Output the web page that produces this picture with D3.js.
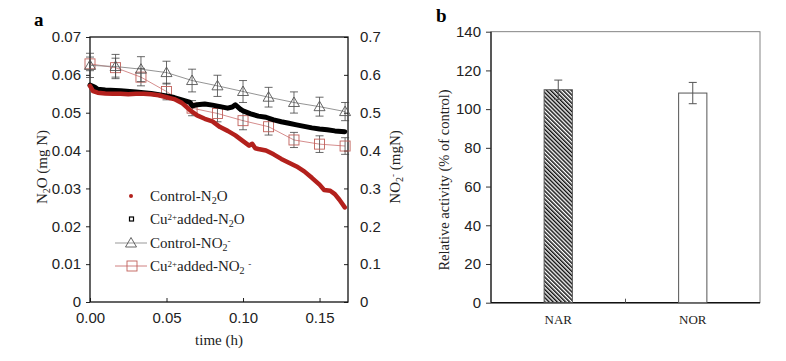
<!DOCTYPE html>
<html>
<head>
<meta charset="utf-8">
<script src="https://cdn.jsdelivr.net/npm/d3@7"></script>
<style>
  body { margin: 0; background: #fff; }
  svg { font-family: "Liberation Serif", "Times New Roman", serif; }
  .tick text { font-size: 15px; fill: #222; }
</style>
</head>
<body>
<svg id="chart" width="786" height="361"></svg>
<script>
// ---- panel a : N2O (left axis, mg N) and NO2- (right axis, mg N) vs time (h)
let ctrlN2O_t = [0, 0.002, 0.005, 0.010, 0.015, 0.020, 0.025, 0.030, 0.035, 0.040, 0.045, 0.050, 0.055,
  0.060, 0.065, 0.070, 0.075, 0.080, 0.085, 0.090, 0.095, 0.100, 0.104, 0.106, 0.108, 0.110, 0.115,
  0.120, 0.125, 0.130, 0.135, 0.140, 0.145, 0.150, 0.153, 0.157, 0.160, 0.163, 0.1665]
let ctrlN2O = [0.0571, 0.0557, 0.0553, 0.0551, 0.0550, 0.0550, 0.0549, 0.0550, 0.0550, 0.0549, 0.0546, 0.0541, 0.0536,
  0.0526, 0.0508, 0.0493, 0.0484, 0.0477, 0.0462, 0.0452, 0.0440, 0.0425, 0.0413, 0.0418, 0.0406, 0.0404, 0.0400,
  0.0390, 0.0378, 0.0368, 0.0358, 0.0345, 0.0328, 0.0310, 0.0296, 0.0294, 0.0285, 0.0270, 0.0250]

let cuN2O_t = [0, 0.003, 0.005, 0.010, 0.020, 0.030, 0.040, 0.050, 0.055, 0.060, 0.065, 0.067, 0.070,
  0.075, 0.080, 0.085, 0.090, 0.093, 0.095, 0.098, 0.100, 0.105, 0.110, 0.115, 0.120, 0.125, 0.130,
  0.135, 0.140, 0.145, 0.150, 0.155, 0.160, 0.1665]
let cuN2O = [0.0573, 0.0568, 0.0562, 0.0560, 0.0558, 0.0555, 0.0551, 0.0544, 0.0540, 0.0534, 0.0528, 0.0518, 0.0521,
  0.0523, 0.0520, 0.0516, 0.0512, 0.0515, 0.0521, 0.0510, 0.0505, 0.0497, 0.0491, 0.0488, 0.0481, 0.0476, 0.0472,
  0.0468, 0.0464, 0.0460, 0.0457, 0.0455, 0.0452, 0.0450]

// nitrite sampled once a minute
let no2_t = [0, 0.0167, 0.0333, 0.05, 0.0667, 0.0833, 0.1, 0.1167, 0.1333, 0.15, 0.1667]
let ctrlNO2 = [0.625, 0.622, 0.615, 0.606, 0.585, 0.571, 0.556, 0.541, 0.527, 0.516, 0.503]
let ctrlNO2_err = [0.032, 0.032, 0.033, 0.030, 0.030, 0.028, 0.029, 0.026, 0.028, 0.025, 0.024]
let cuNO2 = [0.629, 0.619, 0.594, 0.556, 0.512, 0.498, 0.479, 0.463, 0.428, 0.417, 0.412]
let cuNO2_err = [0.018, 0.025, 0.023, 0.022, 0.020, 0.022, 0.024, 0.022, 0.020, 0.022, 0.022]

let xTicks = [0, 0.05, 0.10, 0.15]
let yLeftTicks = [0, 0.01, 0.02, 0.03, 0.04, 0.05, 0.06, 0.07]
let yRightTicks = [0, 0.1, 0.2, 0.3, 0.4, 0.5, 0.6, 0.7]

// ---- panel b : relative enzyme activity
let enzymes = ['NAR', 'NOR']
let activity = [110, 108.3]
let activity_err = [5, 5.5]
let yBTicks = [0, 20, 40, 60, 80, 100, 120, 140]

const svg = d3.select('#chart')

const red = '#b3201c', sqColor = '#c0605a', triColor = '#555'

// hatch for the NAR bar
svg.append('defs').append('pattern')
  .attr('id', 'hatch').attr('patternUnits', 'userSpaceOnUse')
  .attr('width', 2.9).attr('height', 10)
  .attr('patternTransform', 'rotate(-45)')
  .append('rect').attr('width', 1.5).attr('height', 10).attr('fill', '#111')

// ================= panel a =================
let x = d3.scaleLinear().domain([0, 0.1686]).range([90, 348])
let yL = d3.scaleLinear().domain([0, 0.07]).range([302, 37])
let yR = d3.scaleLinear().domain([0, 0.7]).range([302, 37])

svg.append('g').attr('transform', 'translate(0,302)')
  .call(d3.axisBottom(x).tickValues(xTicks).tickFormat(d3.format('.2f')).tickSizeInner(-4).tickSizeOuter(0).tickPadding(10))
svg.append('g').attr('transform', 'translate(90,0)')
  .call(d3.axisLeft(yL).tickValues(yLeftTicks).tickFormat(d => d == 0 ? '0' : d3.format('.2f')(d)).tickSizeInner(4).tickSizeOuter(0).tickPadding(5))
svg.append('g').attr('transform', 'translate(348,0)')
  .call(d3.axisRight(yR).tickValues(yRightTicks).tickFormat(d => d == 0 ? '0' : d3.format('.1f')(d)).tickSizeInner(-4).tickSizeOuter(0).tickPadding(12))
svg.selectAll('.domain').remove()
svg.selectAll('.tick line').attr('stroke', '#222')

// frame
svg.append('rect').attr('x', 90).attr('y', 37).attr('width', 258).attr('height', 265)
  .attr('fill', 'none').attr('stroke', '#111').attr('stroke-width', 1.3)

let lineL = d3.line().x(d => x(d[0])).y(d => yL(d[1]))
let lineR = d3.line().x(d => x(d[0])).y(d => yR(d[1]))

// nitrite series with error bars
function nitrite(vals, errs, color, lineColor, marker) {
  let pts = no2_t.map((t, i) => [t, vals[i], errs[i]])
  svg.append('path').datum(pts).attr('d', lineR)
    .attr('fill', 'none').attr('stroke', lineColor).attr('stroke-width', 0.9)
  let g = svg.append('g')
  pts.forEach(p => {
    let cx = x(p[0])
    g.append('line').attr('x1', cx).attr('x2', cx).attr('y1', yR(p[1] + p[2])).attr('y2', yR(p[1] - p[2]))
      .attr('stroke', '#444').attr('stroke-width', 0.8)
    ;[p[1] + p[2], p[1] - p[2]].forEach(v => {
      g.append('line').attr('x1', cx - 4).attr('x2', cx + 4).attr('y1', yR(v)).attr('y2', yR(v))
        .attr('stroke', '#444').attr('stroke-width', 0.8)
    })
    marker(g, cx, yR(p[1]), color)
  })
}
function triangle(g, cx, cy, color) {
  g.append('path').attr('d', `M${cx},${cy - 5.5}L${cx + 5.5},${cy + 4}L${cx - 5.5},${cy + 4}Z`)
    .attr('fill', 'none').attr('stroke', color).attr('stroke-width', 0.9)
}
function square(g, cx, cy, color) {
  g.append('rect').attr('x', cx - 5).attr('y', cy - 5).attr('width', 10).attr('height', 10)
    .attr('fill', 'none').attr('stroke', color).attr('stroke-width', 0.9)
}

nitrite(cuNO2, cuNO2_err, sqColor, '#d08080', square)
nitrite(ctrlNO2, ctrlNO2_err, triColor, '#888', triangle)

// N2O traces (dense points drawn as a thick trace)
svg.append('path').datum(cuN2O_t.map((t, i) => [t, cuN2O[i]])).attr('d', lineL)
  .attr('fill', 'none').attr('stroke', '#000').attr('stroke-width', 5).attr('stroke-linejoin', 'round').attr('stroke-linecap', 'round')
svg.append('path').datum(ctrlN2O_t.map((t, i) => [t, ctrlN2O[i]])).attr('d', lineL)
  .attr('fill', 'none').attr('stroke', red).attr('stroke-width', 4.5).attr('stroke-linejoin', 'round').attr('stroke-linecap', 'round')

// legend
function sub(t, s) { t.append('tspan').attr('font-size', 10).attr('baseline-shift', '-30%').text(s) }
function sup(t, s) { t.append('tspan').attr('font-size', 9).attr('baseline-shift', '45%').text(s) }
let lg = svg.append('g').attr('font-size', 15).attr('fill', '#222')
lg.append('circle').attr('cx', 131).attr('cy', 196).attr('r', 2).attr('fill', red)
let t1 = lg.append('text').attr('x', 150).attr('y', 201)
t1.append('tspan').text('Control-N'); sub(t1, '2'); t1.append('tspan').attr('baseline-shift', '0').text('O')

lg.append('rect').attr('x', 129.5).attr('y', 217).attr('width', 4).attr('height', 4).attr('fill', 'none').attr('stroke', '#000').attr('stroke-width', 1.2)
let t2 = lg.append('text').attr('x', 150).attr('y', 224)
t2.append('tspan').text('Cu'); sup(t2, '2+'); t2.append('tspan').text('added-N'); sub(t2, '2'); t2.append('tspan').text('O')

lg.append('line').attr('x1', 115).attr('x2', 147).attr('y1', 243).attr('y2', 243).attr('stroke', '#aaa').attr('stroke-width', 1.2)
triangle(lg, 131, 243, triColor)
let t3 = lg.append('text').attr('x', 150).attr('y', 248)
t3.append('tspan').text('Control-NO'); sub(t3, '2'); sup(t3, '-')

lg.append('line').attr('x1', 115).attr('x2', 147).attr('y1', 266).attr('y2', 266).attr('stroke', '#d08080').attr('stroke-width', 1)
square(lg, 132, 266, sqColor)
let t4 = lg.append('text').attr('x', 150).attr('y', 271)
t4.append('tspan').text('Cu'); sup(t4, '2+'); t4.append('tspan').text('added-NO'); sub(t4, '2'); t4.append('tspan').text(' '); sup(t4, '-')

// axis titles
let ta = svg.append('text').attr('transform', 'translate(47,167) rotate(-90)').attr('text-anchor', 'middle').attr('font-size', 15).attr('fill', '#222')
ta.append('tspan').text('N'); sub(ta, '2'); ta.append('tspan').text('O  (mg N)')
let tb = svg.append('text').attr('transform', 'translate(400,167) rotate(-90)').attr('text-anchor', 'middle').attr('font-size', 15).attr('fill', '#222')
tb.append('tspan').text('NO'); sub(tb, '2'); sup(tb, '-'); tb.append('tspan').text(' (mgN)')
svg.append('text').attr('x', 219).attr('y', 345).attr('text-anchor', 'middle').attr('font-size', 15).attr('fill', '#222').text('time (h)')
svg.append('text').attr('x', 34).attr('y', 26).attr('font-size', 19).attr('font-weight', 'bold').text('a')

// ================= panel b =================
let xb = d3.scaleBand().domain(enzymes).range([491, 760]).paddingInner(0.79).paddingOuter(0.395)
let yb = d3.scaleLinear().domain([0, 140]).range([302.7, 31.7])

let gb = svg.append('g')
gb.append('g').attr('transform', 'translate(491,0)')
  .call(d3.axisLeft(yb).tickValues(yBTicks).tickSizeInner(5).tickSizeOuter(0).tickPadding(5))
gb.selectAll('.domain').remove()
gb.selectAll('.tick line').attr('stroke', '#333')
gb.selectAll('.tick text').attr('font-size', 14.5)

// frame: light top/right, dark left/bottom
gb.append('rect').attr('x', 491).attr('y', 31.7).attr('width', 269).attr('height', 271)
  .attr('fill', 'none').attr('stroke', '#777').attr('stroke-width', 0.9)
gb.append('line').attr('x1', 491).attr('x2', 491).attr('y1', 31.7).attr('y2', 302.7).attr('stroke', '#111').attr('stroke-width', 1.2)
gb.append('line').attr('x1', 491).attr('x2', 760).attr('y1', 302.7).attr('y2', 302.7).attr('stroke', '#111').attr('stroke-width', 1.5)
// separator tick between the two categories
let mid = xb('NOR') - xb.step() * xb.paddingInner() / 2
gb.append('line').attr('x1', mid).attr('x2', mid).attr('y1', 302.7).attr('y2', 298.7).attr('stroke', '#555')

gb.selectAll('.bar').data(enzymes).join('rect')
  .attr('x', d => xb(d)).attr('width', xb.bandwidth())
  .attr('y', (d, i) => yb(activity[i])).attr('height', (d, i) => yb(0) - yb(activity[i]))
  .attr('fill', (d, i) => i == 0 ? 'url(#hatch)' : '#fff')
  .attr('stroke', '#555').attr('stroke-width', 1)

enzymes.forEach((d, i) => {
  let cx = xb(d) + xb.bandwidth() / 2
  let hi = yb(activity[i] + activity_err[i]), lo = yb(activity[i] - activity_err[i])
  gb.append('line').attr('x1', cx).attr('x2', cx).attr('y1', hi).attr('y2', lo).attr('stroke', '#555').attr('stroke-width', 1)
  ;[hi, lo].forEach(yy => gb.append('line').attr('x1', cx - 4).attr('x2', cx + 4).attr('y1', yy).attr('y2', yy).attr('stroke', '#555').attr('stroke-width', 1))
  gb.append('text').attr('x', cx).attr('y', 324).attr('text-anchor', 'middle').attr('font-size', 13).attr('fill', '#222').text(d)
})

svg.append('text').attr('transform', 'translate(449,180) rotate(-90)').attr('text-anchor', 'middle')
  .attr('font-size', 14.5).attr('fill', '#222').text('Relative activity (% of control)')
svg.append('text').attr('x', 436).attr('y', 22).attr('font-size', 19).attr('font-weight', 'bold').text('b')
</script>
</body>
</html>
